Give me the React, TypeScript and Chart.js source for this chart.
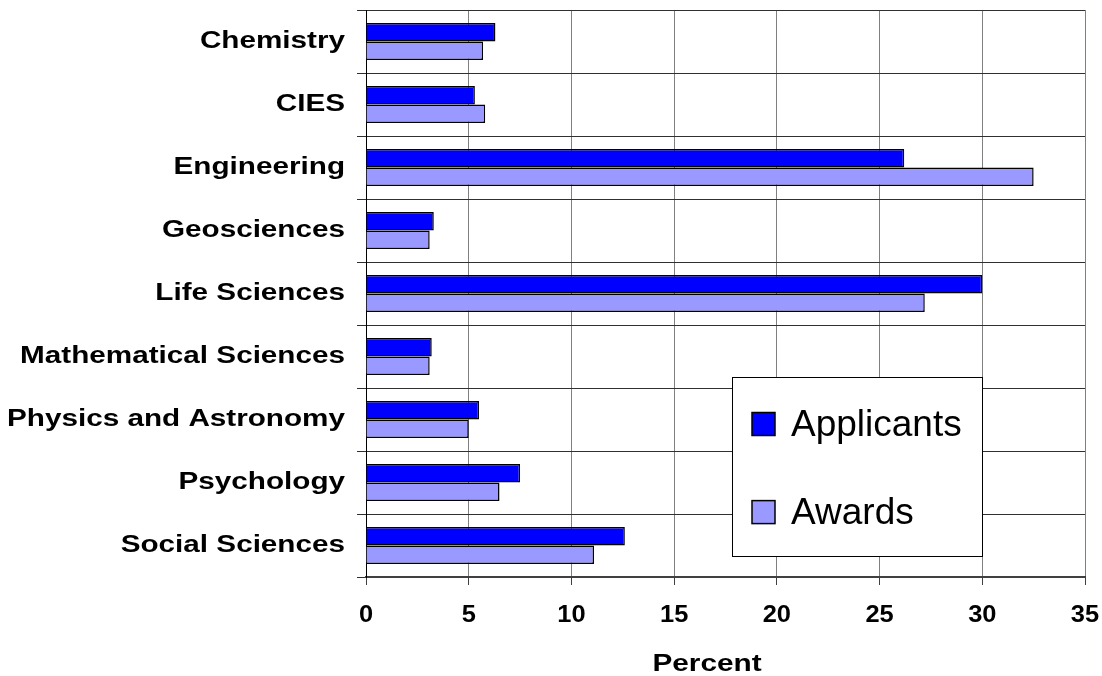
import React, { useEffect, useRef } from "react";
import { Chart, registerables } from "chart.js";

Chart.register(...registerables);

const categories = [
  "Chemistry",
  "CIES",
  "Engineering",
  "Geosciences",
  "Life Sciences",
  "Mathematical Sciences",
  "Physics and Astronomy",
  "Psychology",
  "Social Sciences",
];
const applicants = [6.3, 5.3, 26.2, 3.3, 30.0, 3.2, 5.5, 7.5, 12.6];
const awards = [5.7, 5.8, 32.5, 3.1, 27.2, 3.1, 5.0, 6.5, 11.1];
const seriesNames = ["Applicants", "Awards"];
const seriesColors = ["#0000FF", "#9999FF"];
const xMin = 0;
const xMax = 35;
const xStep = 5;
const xTitle = "Percent";

const FONT = '"Liberation Sans", Arial, Helvetica, sans-serif';

// The reference's bold axis text is drawn horizontally widened.
const stretchPlugin = {
  id: "stretchText",
  beforeDraw(chart: any) {
    const ctx = chart.ctx as any;
    if (!ctx.__origFillText) ctx.__origFillText = ctx.fillText;
    const orig = ctx.__origFillText;
    ctx.fillText = function (text: string, x: number, y: number, maxWidth?: number) {
      let sx = 1;
      if (/bold/.test(this.font) && /23px/.test(this.font)) sx = 1.29;
      else if (/bold/.test(this.font) && /24px/.test(this.font)) sx = 1.06;
      if (sx === 1) return orig.call(this, text, x, y, maxWidth);
      this.save();
      this.translate(x, y);
      this.scale(sx, 1);
      orig.call(this, text, 0, 0);
      this.restore();
    };
  },
  afterDraw(chart: any) {
    const ctx = chart.ctx as any;
    if (ctx.__origFillText) ctx.fillText = ctx.__origFillText;
  },
};

const titlePlugin = {
  id: "xTitle",
  afterDraw(chart: any) {
    const { ctx } = chart;
    const xs = chart.scales.x;
    ctx.save();
    ctx.font = `bold 24px ${FONT}`;
    ctx.fillStyle = "#000";
    ctx.textAlign = "center";
    ctx.textBaseline = "middle";
    ctx.translate(xs.getPixelForValue(16.6), 664);
    ctx.scale(1.24, 1);
    ctx.fillText(xTitle, 0, 0);
    ctx.restore();
  },
};

const legendPlugin = {
  id: "boxLegend",
  afterDraw(chart: any) {
    const { ctx, chartArea } = chart;
    const xs = chart.scales.x;
    const left = Math.round(xs.getPixelForValue(17.8));
    const right = Math.round(xs.getPixelForValue(30));
    const h = chartArea.bottom - chartArea.top;
    const top = Math.round(chartArea.top + h * 0.647);
    const bottom = Math.round(chartArea.top + h * 0.963);
    ctx.save();
    ctx.fillStyle = "#fff";
    ctx.fillRect(left, top, right - left, bottom - top);
    ctx.strokeStyle = "#000";
    ctx.lineWidth = 1;
    ctx.strokeRect(left + 0.5, top + 0.5, right - left, bottom - top);
    const baselines = [top + 58.5, top + 146.6];
    seriesNames.forEach((name, i) => {
      const by = baselines[i];
      ctx.fillStyle = seriesColors[i];
      ctx.fillRect(left + 20, by - 23, 23, 23);
      ctx.strokeStyle = "#000";
      ctx.lineWidth = 1.5;
      ctx.strokeRect(left + 20, by - 23, 23, 23);
      ctx.fillStyle = "#000";
      ctx.font = `37px ${FONT}`;
      ctx.textAlign = "left";
      ctx.textBaseline = "alphabetic";
      ctx.fillText(name, left + 59, by);
    });
    ctx.restore();
  },
};

export default function App() {
  const ref = useRef<HTMLCanvasElement | null>(null);

  useEffect(() => {
    if (!ref.current) return;
    Chart.defaults.font.family = FONT;
    const chart = new Chart(ref.current, {
      type: "bar",
      data: {
        labels: categories,
        datasets: [
          {
            label: seriesNames[0],
            data: applicants,
            backgroundColor: seriesColors[0],
            borderColor: "#000",
            borderWidth: 1.5,
          },
          {
            label: seriesNames[1],
            data: awards,
            backgroundColor: seriesColors[1],
            borderColor: "#000",
            borderWidth: 1.5,
          },
        ],
      },
      options: {
        indexAxis: "y",
        responsive: false,
        animation: false,
        layout: { padding: { top: 10, right: 17, left: 0, bottom: 0 } },
        datasets: {
          bar: { categoryPercentage: 0.59, barPercentage: 1.0 },
        },
        plugins: {
          legend: { display: false },
          tooltip: { enabled: false },
        },
        scales: {
          x: {
            type: "linear",
            min: xMin,
            max: xMax,
            ticks: {
              stepSize: xStep,
              color: "#000",
              font: { size: 24, weight: "bold" },
              padding: 16,
            },
            grid: {
              color: "#808080",
              lineWidth: 1,
              tickLength: 8,
              tickColor: "#404040",
            },
            border: { color: "#404040", width: 2 },
            afterFit(scale: any) {
              scale.height = 99;
              scale.paddingLeft = 0;
              scale.paddingRight = 0;
            },
          },
          y: {
            type: "category",
            ticks: {
              color: "#000",
              font: { size: 23, weight: "bold" },
              padding: 12,
            },
            grid: {
              color: "#303030",
              lineWidth: 1,
              tickLength: 9,
              offset: true,
            },
            border: { color: "#000", width: 1 },
            afterFit(scale: any) {
              scale.width = 366;
              scale.paddingTop = 0;
              scale.paddingBottom = 0;
            },
          },
        },
      },
      plugins: [stretchPlugin, titlePlugin, legendPlugin],
    } as any);
    return () => chart.destroy();
  }, []);

  return (
    <div style={{ position: "fixed", left: 0, top: 0, width: 1102, height: 676, background: "#fff" }}>
      <canvas ref={ref} width={1102} height={676} style={{ display: "block" }} />
    </div>
  );
}
